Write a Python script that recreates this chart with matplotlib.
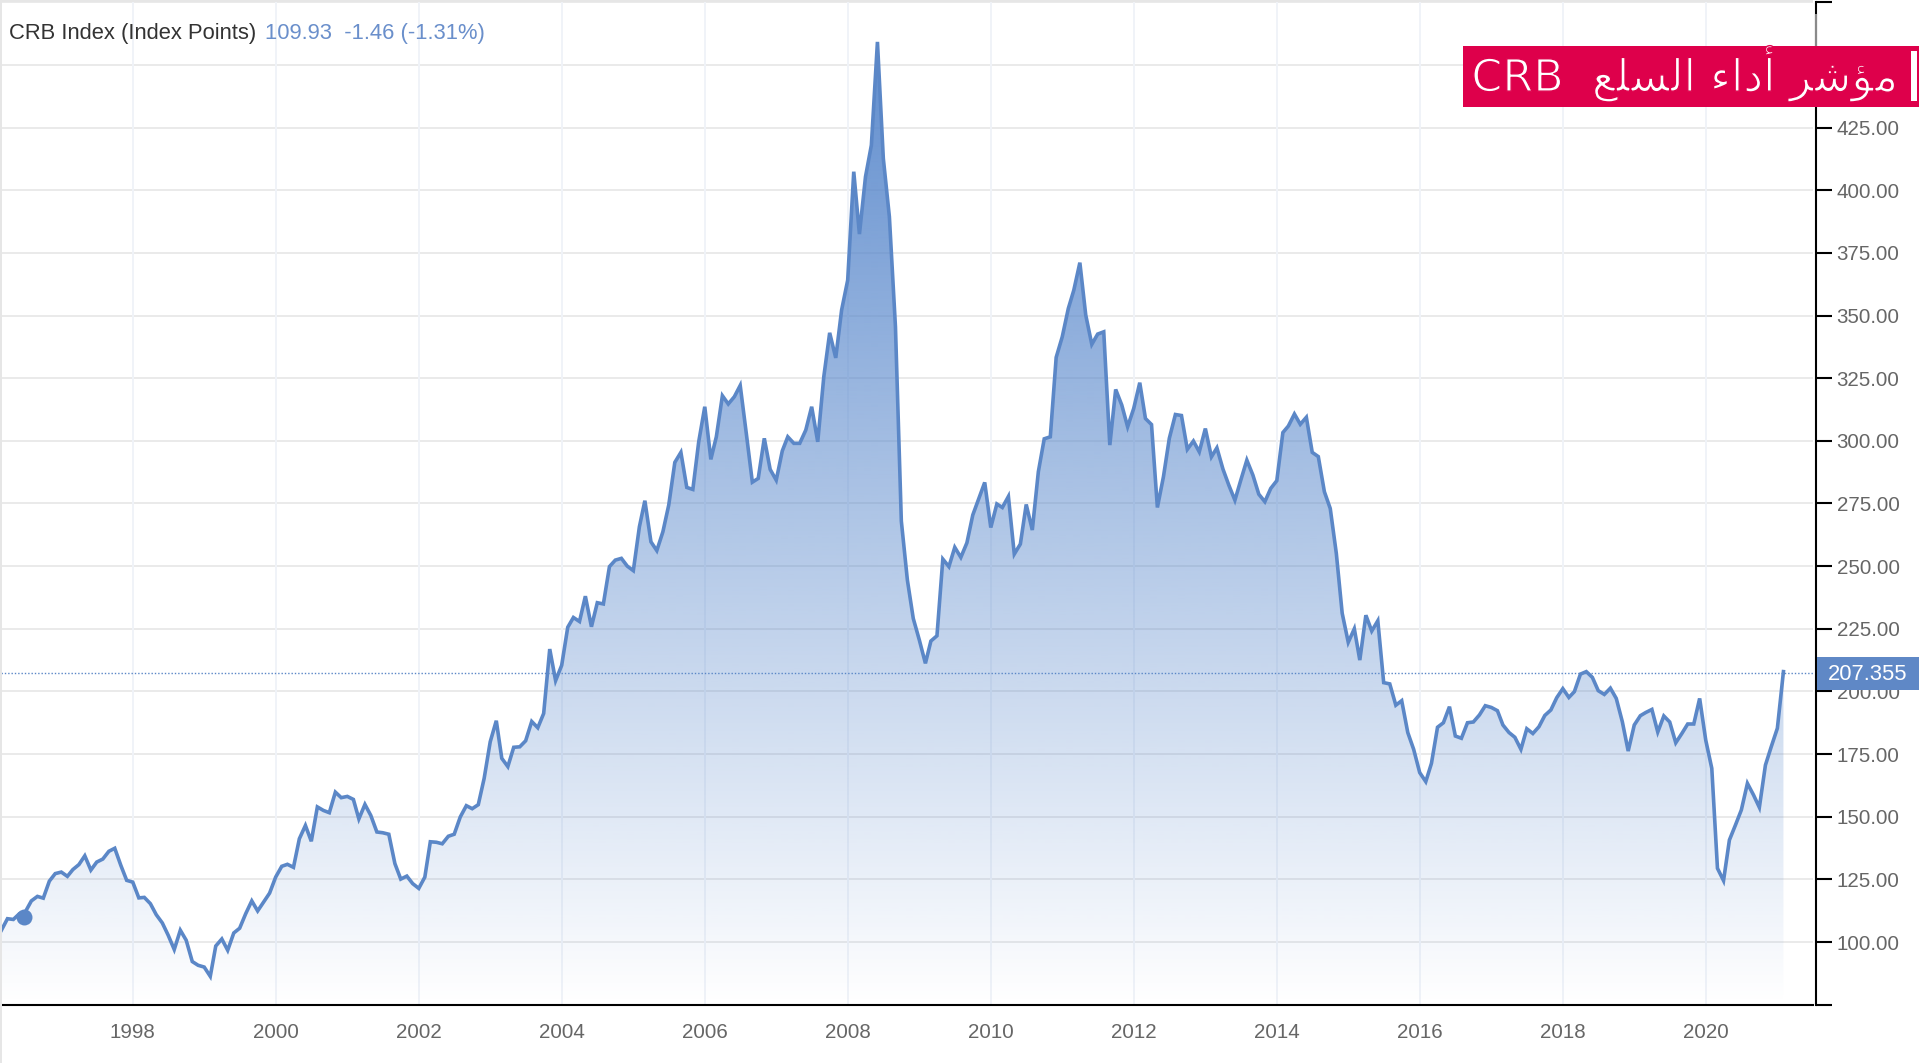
import numpy as np
import pandas as pd
import matplotlib
matplotlib.use("Agg")
import matplotlib.pyplot as plt
import matplotlib.dates as mdates
import matplotlib.patheffects as pe
from matplotlib.patches import Polygon, Rectangle
from matplotlib.colors import to_rgb

# ---- data ----
start_month = "1996-03-01"
values_1996_2002 = [104.7,109.3,109,111.3,112,116.4,118.2,117.5,124.3,127.3,127.9,126.2,128.9,130.9,134.4,128.7,131.9,133.1,136.2,137.4,130.6,124.6,123.9,117.6,117.8,115.3,110.9,107.6,102.7,97,104.7,100.7,92.2,90.7,90,86.3,98.4,101.2,96.7,103.6,105.5,111.3,116.4,112.4,116,119.5,125.9,130.2,131,129.8,141.2,146.5,140.2,153.9,152.5,151.6,159.8,157.6,158.1,156.9,149.1,154.9,150.5,143.9,143.6,143,131.3,125.1,126.3,123.3,121.4,125.9,140,139.8,139.2,142.2,143,149.9,154.4,153.2,154.8]
values_2003_2005 = [165.3,179.9,188.3,173.3,170,177.7,177.9,180.3,188,185.5,191.2,216.9,204.3,210.4,225.6,229.5,227.9,238,225.8,235.4,234.9,249.8,252.4,253.1,250,248.2,265.7,276.1,259.7,256.2,263.7,274.4,291.4,295.4,281.4,280.6]
values_2006_2008 = [299.6,313.6,292.6,301.6,318,314.7,317.6,322.1,303,283.5,285,301,288.6,284.3,296,301.6,299,299,304.3,313.6,299.6,325.6,343.1,333.1,352.2,364.1,407.4,382.5,405.4,418,459.2,412.7,389.4,345.5]
values_2008_2011 = [268,244.4,229.1,220.5,211.2,220.1,222.2,252.8,249.8,257.5,253.5,259.3,270.4,277,283.4,265.4,274.8,273.4,277.8,254.8,258.8,274.6,264.4,287.7,300.8,301.6,333.3,341.5,352.8,360.1,371.1,350.2,338.5,342.6]
values_2011_2014 = [343.5,298.3,320.5,314.3,305.6,312.9,323.2,308.9,306.5,273.4,285.7,301,310.5,310.1,296.6,299.9,295.6,304.9,293.6,297.2,288.7,282.3,276.3,284.3,292.3,286.3,278.7,275.7,281,284.1,303.3,305.9,310.7,306.6]
values_2014_2017 = [309.4,295.4,293.7,279.7,273,255.1,231.2,219.6,225,212.5,230.4,224.1,228.2,203.5,203,194.5,196.3,183.6,176.9,167.6,164,171.3,185.7,187.5,193.9,182.2,181.3,187.5,187.8,190.6,194.3]
values_2017_2020 = [193.6,192.3,186.6,183.6,181.7,176.9,185.1,183.2,185.9,190.4,192.6,197.5,201.1,197.6,199.9,206.9,207.9,205.6,200.3,198.8,201.3,197.2,187.9,176.2,186.6,190.3,191.6,192.8,183.8,190.2,187.8,179.5,183.2,187,187,197.2]
values_2020_2021 = [180.6,169.3,129.4,124.5,140.7,146.7,152.7,163.3,158.7,153.7,170.6,178,185.3,207.9]
values = (values_1996_2002 + values_2003_2005 + values_2006_2008 + values_2008_2011
          + values_2011_2014 + values_2014_2017 + values_2017_2020 + values_2020_2021)
last_value = 207.355
last_label = "207.355"
hover_date = "1996-06-25"
hover_value = 109.93
x_tick_years = [1998, 2000, 2002, 2004, 2006, 2008, 2010, 2012, 2014, 2016, 2018, 2020]
y_ticks = [75, 100, 125, 150, 175, 200, 225, 250, 275, 300, 325, 350, 375, 400, 425, 450, 475]
y_labelled = [100, 125, 150, 175, 200, 225, 250, 275, 300, 325, 350, 375, 400, 425]
header_name = "CRB Index (Index Points)"
header_value = "109.93  -1.46 (-1.31%)"
banner_title = "مؤشر أداء السلع CRB"

BLUE = "#5b87c7"
CRIMSON = "#de004b"
FONT = ["Liberation Sans", "DejaVu Sans"]
W, H = 1919, 1063

# ---- Arabic shaping (matplotlib draws glyphs left to right, unshaped) ----
FORMS = {
    "م": (0xFEE1, 0xFEE2, 0xFEE3, 0xFEE4), "ش": (0xFEB5, 0xFEB6, 0xFEB7, 0xFEB8),
    "س": (0xFEB1, 0xFEB2, 0xFEB3, 0xFEB4), "ل": (0xFEDD, 0xFEDE, 0xFEDF, 0xFEE0),
    "ع": (0xFEC9, 0xFECA, 0xFECB, 0xFECC), "ؤ": (0xFE85, 0xFE86), "ر": (0xFEAD, 0xFEAE),
    "أ": (0xFE83, 0xFE84), "د": (0xFEA9, 0xFEAA), "ا": (0xFE8D, 0xFE8E), "ء": (0xFE80,),
}
def shape_word(word):
    out = []
    for i, c in enumerate(word):
        prev = word[i - 1] if i else ""
        nxt = word[i + 1] if i + 1 < len(word) else ""
        joins_prev = prev in FORMS and len(FORMS[prev]) == 4 and len(FORMS[c]) > 1
        joins_next = len(FORMS[c]) == 4 and nxt in FORMS and len(FORMS[nxt]) > 1
        f = FORMS[c]
        if joins_prev and joins_next:
            out.append(f[3])
        elif joins_prev:
            out.append(f[1])
        elif joins_next:
            out.append(f[2])
        else:
            out.append(f[0])
    return "".join(chr(o) for o in reversed(out))
def visual(text):
    words = text.split(" ")
    arabic = [shape_word(w) for w in words if w[0] in FORMS]
    latin = [w for w in words if w[0] not in FORMS]
    return " ".join(latin) + "  " + " ".join(reversed(arabic))

# ---- figure ----
fig = plt.figure(figsize=(W / 100, H / 100), dpi=100, facecolor="white")
y_top, y_bot = 2.3, 1004.65
x_left, x_right = 1.4, 1813
ax = fig.add_axes([x_left / W, 1 - y_bot / H, (x_right - x_left) / W, (y_bot - y_top) / H])

dates = pd.date_range(start_month, periods=len(values), freq="MS")
xn = mdates.date2num(dates)
yv = np.array(values, dtype=float)
x0 = xn[0]
x1 = mdates.date2num(pd.Timestamp("2020-01-01")) + 548
ax.set_xlim(x0, x1)
ax.set_ylim(75, 475)

# grid
ax.set_axisbelow(True)
for t in y_ticks[1:]:
    ax.axhline(t, color="#e6e6e6", lw=1.2, zorder=1)
for yr in x_tick_years:
    ax.axvline(mdates.date2num(pd.Timestamp(f"{yr}-01-01")), color="#f0f3f8", lw=1.4, zorder=1)

# gradient area
grad_n = 256
alpha = np.linspace(0.94, 0.0, grad_n)
rgba = np.zeros((grad_n, 1, 4))
rgba[..., :3] = to_rgb("#5686cb")
rgba[..., 3] = alpha[:, None]
peak = yv.max()
im = ax.imshow(rgba, extent=[x0, xn[-1], 75, peak], aspect="auto", origin="upper", zorder=2, interpolation="bilinear")
poly = Polygon(np.column_stack([np.r_[xn[0], xn, xn[-1]], np.r_[75, yv, 75]]), closed=True,
               transform=ax.transData, fc="none", ec="none")
ax.add_patch(poly)
im.set_clip_path(poly)
ax.set_xlim(x0, x1)
ax.set_ylim(75, 475)

ax.plot(xn, yv, color=BLUE, lw=2.6, solid_joinstyle="miter", zorder=4, clip_on=False)
ax.axhline(last_value, color=BLUE, lw=1.0, ls=(0, (1, 1.4)), zorder=3, clip_on=False)
ax.plot([mdates.date2num(pd.Timestamp(hover_date))], [hover_value], "o", ms=11.5, color=BLUE, mec="none", zorder=5)

# axes
for s in ("top", "left"):
    ax.spines[s].set_visible(False)
ax.spines["bottom"].set_linewidth(1.5)
ax.spines["bottom"].set_color("black")
ax.spines["right"].set_linewidth(1.5)
ax.spines["right"].set_color("black")
ax.spines["right"].set_position(("outward", 1.9))
ax.yaxis.tick_right()
ax.set_yticks(y_ticks)
ax.set_yticklabels([f"{t:.2f}" if t in y_labelled else "" for t in y_ticks],
                   fontfamily=FONT, fontsize=14.8, color="#666666")
ax.tick_params(axis="y", length=11.5, width=1.5, color="black", pad=3.6)
ax.set_xticks([mdates.date2num(pd.Timestamp(f"{yr}-01-01")) for yr in x_tick_years])
ax.set_xticklabels([str(y) for y in x_tick_years], fontfamily=FONT, fontsize=14.8, color="#666666")
ax.tick_params(axis="x", length=0, pad=13.5)

# overlay in pixel space
ov = fig.add_axes([0, 0, 1, 1], zorder=10)
ov.set_xlim(0, W)
ov.set_ylim(H, 0)
ov.axis("off")
ov.add_patch(Rectangle((0, 0), 2, H, fc="#e6e6e6", ec="none"))
ov.add_patch(Rectangle((0, 0), 1813, 2, fc="#e6e6e6", ec="none"))
ov.plot([1815.7, 1815.7], [14, 46], color="#8a8a8a", lw=1.5, solid_capstyle="butt")
ov.text(9, 33.5, header_name, fontfamily=FONT, fontsize=15.85, color="#333333", va="center", ha="left")
ov.text(265, 33.5, header_value, fontfamily=FONT, fontsize=15.85, color="#6a8fcb", va="center", ha="left")
ov.add_patch(Rectangle((1816.7, 657), W - 1816.7, 32.7, fc="#5f88c6", ec="none"))
ov.text(1868, 674, last_label, fontfamily=FONT, fontsize=15.8, color="white", va="center", ha="center")
ov.add_patch(Rectangle((1462.8, 46), W - 1462.8, 61, fc=CRIMSON, ec="none"))
ov.add_patch(Rectangle((1911, 51), 6, 50, fc="white", ec="none"))
title = ov.text(1899, 74, visual(banner_title), family=["DejaVu Sans"], fontsize=32,
                color="white", va="center", ha="right")
title.set_path_effects([pe.Normal(), pe.Stroke(linewidth=1.0, foreground=CRIMSON)])

fig.savefig("out.png", dpi=100)
